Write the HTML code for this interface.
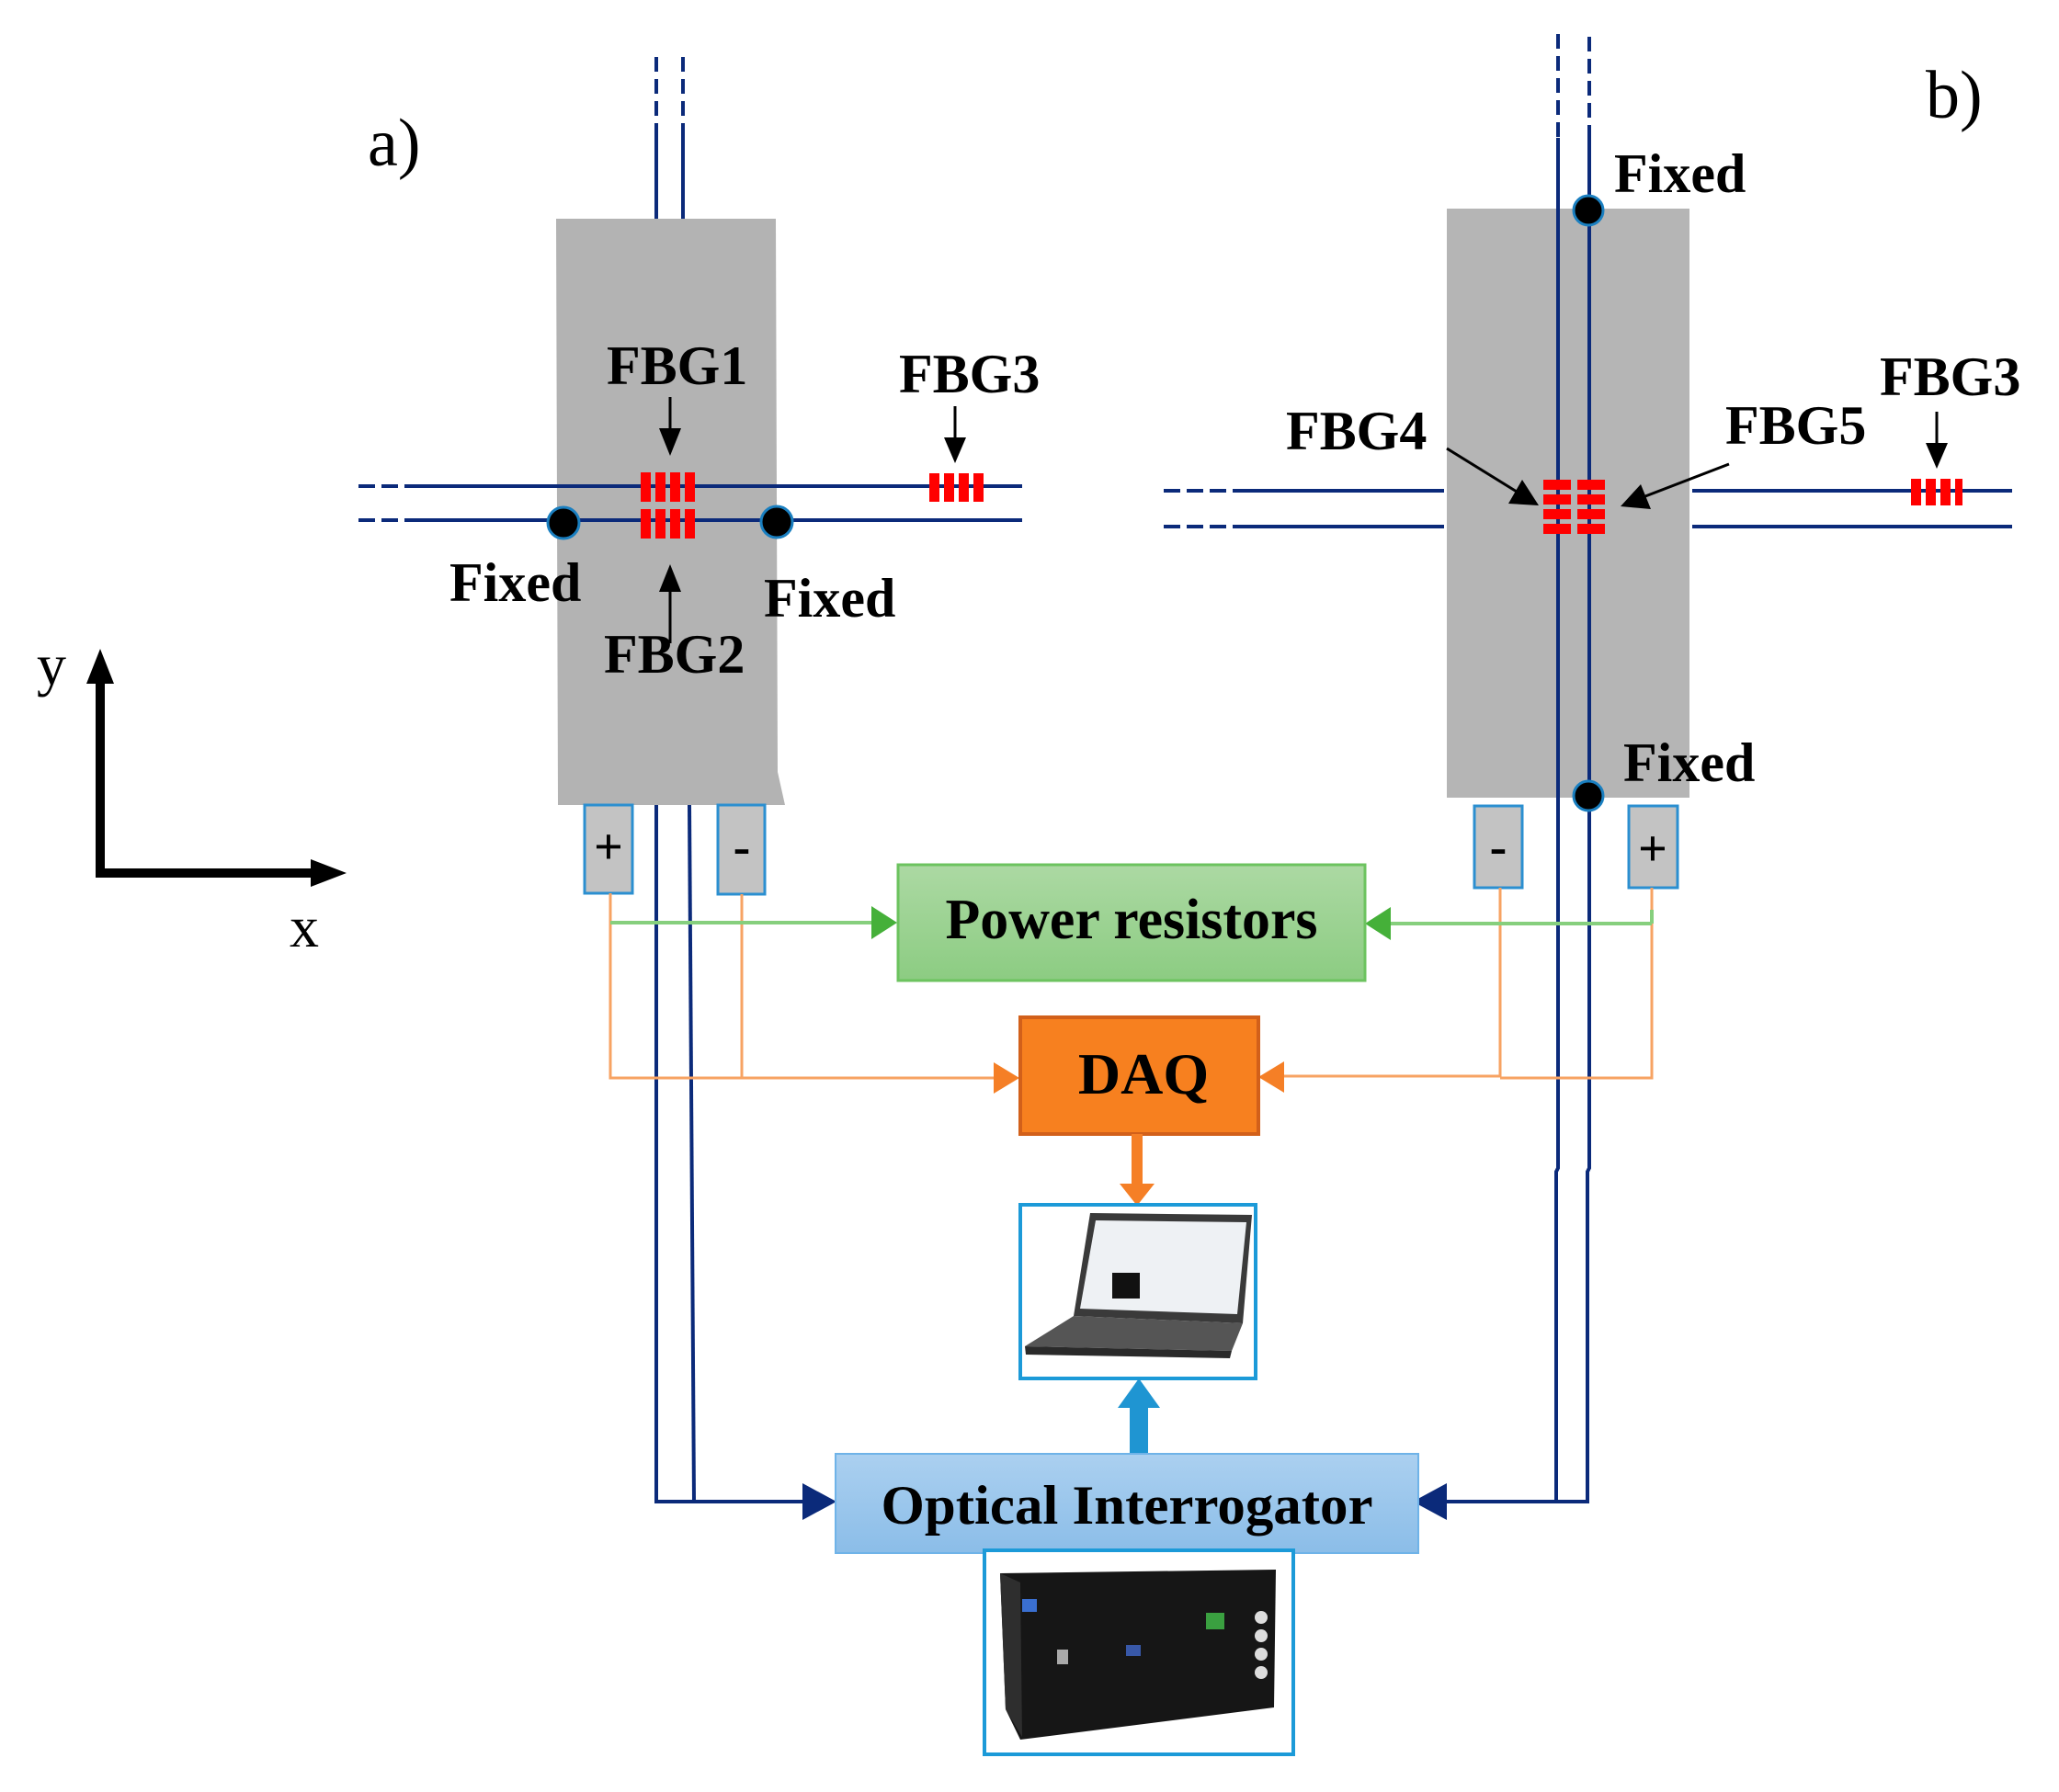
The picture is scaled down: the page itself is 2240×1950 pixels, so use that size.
<!DOCTYPE html>
<html><head><meta charset="utf-8"><style>
html,body{margin:0;padding:0;background:#fff;}
svg{display:block;}
text{font-family:"Liberation Serif",serif;}
</style></head><body>
<svg width="2240" height="1950" viewBox="0 0 2240 1950" xmlns="http://www.w3.org/2000/svg">
<defs>
<linearGradient id="gG" x1="0" y1="0" x2="0" y2="1"><stop offset="0" stop-color="#acd9a3"/><stop offset="1" stop-color="#8ccc82"/></linearGradient>
<linearGradient id="gB" x1="0" y1="0" x2="0" y2="1"><stop offset="0" stop-color="#abd0f0"/><stop offset="1" stop-color="#8bbde8"/></linearGradient>
</defs>

<text x="400" y="180" font-size="74">a)</text>
<text x="2095" y="128" font-size="74">b)</text>

<line x1="109" y1="740" x2="109" y2="950" stroke="#000" stroke-width="10"/>
<polygon points="109,706 94,744 124,744" fill="#000"/>
<line x1="104" y1="950" x2="345" y2="950" stroke="#000" stroke-width="10"/>
<polygon points="377,950 338,935 338,965" fill="#000"/>
<text x="40" y="745" font-size="64">y</text>
<text x="315" y="1030" font-size="64">x</text>

<polygon points="605,238 844,238 846,840 854,876 607,876" fill="#b3b3b3"/>
<rect x="1574" y="227" width="264" height="641" fill="#b5b5b5"/>

<g stroke="#0b2a7a" stroke-width="4" fill="none">
<line x1="714" y1="62" x2="714" y2="150" stroke-dasharray="16,8"/>
<line x1="743" y1="62" x2="743" y2="150" stroke-dasharray="16,8"/>
<line x1="714" y1="150" x2="714" y2="238"/>
<line x1="743" y1="150" x2="743" y2="238"/>
<polyline points="714,876 714,1634 880,1634"/>
<polyline points="750,876 755,1634"/>
<line x1="390" y1="529" x2="455" y2="529" stroke-dasharray="18,7"/>
<line x1="390" y1="566" x2="455" y2="566" stroke-dasharray="18,7"/>
<line x1="455" y1="529" x2="1112" y2="529"/>
<line x1="455" y1="566" x2="1112" y2="566"/>
<line x1="1695" y1="37" x2="1695" y2="150" stroke-dasharray="16,8"/>
<line x1="1729" y1="40" x2="1729" y2="150" stroke-dasharray="16,8"/>
<polyline points="1695,150 1695,1271 1693,1275 1693,1634"/>
<polyline points="1729,150 1729,1271 1727,1275 1727,1634 1570,1634"/>
<line x1="1266" y1="534" x2="1349" y2="534" stroke-dasharray="18,7"/>
<line x1="1266" y1="573" x2="1349" y2="573" stroke-dasharray="18,7"/>
<line x1="1349" y1="534" x2="1571" y2="534"/>
<line x1="1349" y1="573" x2="1571" y2="573"/>
<line x1="1841" y1="534" x2="2189" y2="534"/>
<line x1="1841" y1="573" x2="2189" y2="573"/>
</g>
<polygon points="910,1634 873,1614 873,1654" fill="#0b2a7a"/>
<polygon points="1537,1634 1574,1614 1574,1654" fill="#0b2a7a"/>

<g fill="#ff0000">
<rect x="697" y="514" width="11" height="32"/><rect x="713" y="514" width="11" height="32"/><rect x="729" y="514" width="11" height="32"/><rect x="745" y="514" width="11" height="32"/>
<rect x="697" y="554" width="11" height="32"/><rect x="713" y="554" width="11" height="32"/><rect x="729" y="554" width="11" height="32"/><rect x="745" y="554" width="11" height="32"/>
<rect x="1011" y="515" width="11" height="31"/><rect x="1027" y="515" width="11" height="31"/><rect x="1043" y="515" width="11" height="31"/><rect x="1059" y="515" width="11" height="31"/>
<rect x="2079" y="521" width="11" height="29"/><rect x="2095" y="521" width="11" height="29"/><rect x="2111" y="521" width="11" height="29"/><rect x="2127" y="521" width="8" height="29"/>
<rect x="1679" y="522" width="30" height="11"/><rect x="1679" y="538" width="30" height="11"/><rect x="1679" y="554" width="30" height="11"/><rect x="1679" y="570" width="30" height="11"/>
<rect x="1716" y="522" width="30" height="11"/><rect x="1716" y="538" width="30" height="11"/><rect x="1716" y="554" width="30" height="11"/><rect x="1716" y="570" width="30" height="11"/>
</g>

<g fill="#000" stroke="#1a7fc0" stroke-width="3">
<circle cx="613" cy="569" r="17"/><circle cx="845" cy="568" r="17"/>
<circle cx="1728" cy="229" r="16"/><circle cx="1728" cy="866" r="16"/>
</g>

<g stroke="#000" stroke-width="3">
<line x1="729" y1="432" x2="729" y2="470"/>
<line x1="729" y1="700" x2="729" y2="640"/>
<line x1="1039" y1="442" x2="1039" y2="480"/>
<line x1="2107" y1="448" x2="2107" y2="486"/>
<line x1="1574" y1="488" x2="1650" y2="535"/>
<line x1="1881" y1="505" x2="1790" y2="540"/>
</g>
<g fill="#000">
<polygon points="729,496 717,466 741,466"/>
<polygon points="729,614 717,644 741,644"/>
<polygon points="1039,504 1027,476 1051,476"/>
<polygon points="2107,510 2095,482 2119,482"/>
<polygon points="1674,550 1641,548 1656,522"/>
<polygon points="1763,551 1785,527 1796,554"/>
</g>

<g font-size="60" font-weight="bold">
<text x="660" y="418">FBG1</text>
<text x="657" y="732">FBG2</text>
<text x="978" y="427">FBG3</text>
<text x="2045" y="430">FBG3</text>
<text x="1399" y="489">FBG4</text>
<text x="1877" y="483">FBG5</text>
<text x="489" y="654">Fixed</text>
<text x="831" y="671">Fixed</text>
<text x="1756" y="209">Fixed</text>
<text x="1766" y="850">Fixed</text>
</g>

<g fill="#c3c3c3" stroke="#2b8fd0" stroke-width="3">
<rect x="636" y="876" width="52" height="96"/>
<rect x="781" y="876" width="51" height="97"/>
<rect x="1604" y="877" width="52" height="89"/>
<rect x="1772" y="877" width="53" height="89"/>
</g>
<g font-size="56" font-weight="bold" text-anchor="middle">
<text x="662" y="940" font-family="Liberation Sans,sans-serif">+</text>
<text x="807" y="940" font-family="Liberation Sans,sans-serif">-</text>
<text x="1630" y="940" font-family="Liberation Sans,sans-serif">-</text>
<text x="1798" y="942" font-family="Liberation Sans,sans-serif">+</text>
</g>

<g stroke="#f7a363" stroke-width="3" fill="none">
<polyline points="664,972 664,1173 1085,1173"/>
<polyline points="807,973 807,1173"/>
<polyline points="1632,966 1632,1171 1395,1171"/>
<polyline points="1797,966 1797,1173 1632,1173"/>
</g>
<polygon points="1109,1173 1081,1156 1081,1190" fill="#f57f26"/>
<polygon points="1369,1172 1397,1155 1397,1189" fill="#f57f26"/>

<g stroke="#86cf7d" stroke-width="4" fill="none">
<line x1="664" y1="1004" x2="950" y2="1004"/>
<line x1="1797" y1="1005" x2="1512" y2="1005"/>
<line x1="1797" y1="990" x2="1797" y2="1005"/>
</g>
<polygon points="976,1004 948,986 948,1022" fill="#45b039"/>
<polygon points="1485,1005 1513,987 1513,1023" fill="#45b039"/>

<rect x="977" y="941" width="508" height="126" fill="url(#gG)" stroke="#6cc35f" stroke-width="3"/>
<text x="1231" y="1021" font-size="62" font-weight="bold" text-anchor="middle" textLength="405" lengthAdjust="spacingAndGlyphs">Power resistors</text>

<rect x="1110" y="1107" width="259" height="127" fill="#f7801f" stroke="#d2601a" stroke-width="4"/>
<text x="1244" y="1190" font-size="64" font-weight="bold" text-anchor="middle">DAQ</text>
<line x1="1237" y1="1234" x2="1237" y2="1290" stroke="#f57f26" stroke-width="12"/>
<polygon points="1237,1312 1218,1288 1256,1288" fill="#f57f26"/>

<rect x="1110" y="1311" width="256" height="189" fill="#fff" stroke="#1c9ad8" stroke-width="4"/>
<polygon points="1186,1320 1362,1322 1352,1440 1168,1432" fill="#3a3a3a"/>
<polygon points="1192,1328 1356,1330 1346,1430 1175,1424" fill="#eef1f4"/>
<rect x="1210" y="1385" width="30" height="28" fill="#111"/>
<polygon points="1168,1432 1352,1440 1340,1470 1115,1465" fill="#555"/>
<polygon points="1115,1465 1340,1470 1338,1478 1116,1474" fill="#2a2a2a"/>

<rect x="1229" y="1530" width="20" height="52" fill="#1f95d2"/>
<polygon points="1239,1500 1216,1532 1262,1532" fill="#1f95d2"/>

<rect x="909" y="1582" width="634" height="108" fill="url(#gB)" stroke="#6fb3e8" stroke-width="2"/>
<text x="1226" y="1658" font-size="60" font-weight="bold" text-anchor="middle" textLength="535" lengthAdjust="spacingAndGlyphs">Optical Interrogator</text>

<rect x="1071" y="1687" width="336" height="222" fill="#fff" stroke="#1c9ad8" stroke-width="4"/>
<polygon points="1088,1712 1388,1708 1386,1858 1110,1893 1094,1860" fill="#161616"/>
<polygon points="1088,1712 1110,1722 1112,1890 1094,1860" fill="#2e2e2e"/>
<rect x="1112" y="1740" width="16" height="14" fill="#3a6fd0"/>
<rect x="1312" y="1755" width="20" height="18" fill="#3aa040"/>
<circle cx="1372" cy="1760" r="7" fill="#ddd"/><circle cx="1372" cy="1780" r="7" fill="#ddd"/><circle cx="1372" cy="1800" r="7" fill="#ddd"/><circle cx="1372" cy="1820" r="7" fill="#ddd"/>
<rect x="1225" y="1790" width="16" height="12" fill="#3858a8"/>
<rect x="1150" y="1795" width="12" height="16" fill="#aaa"/>
</svg>
</body></html>
